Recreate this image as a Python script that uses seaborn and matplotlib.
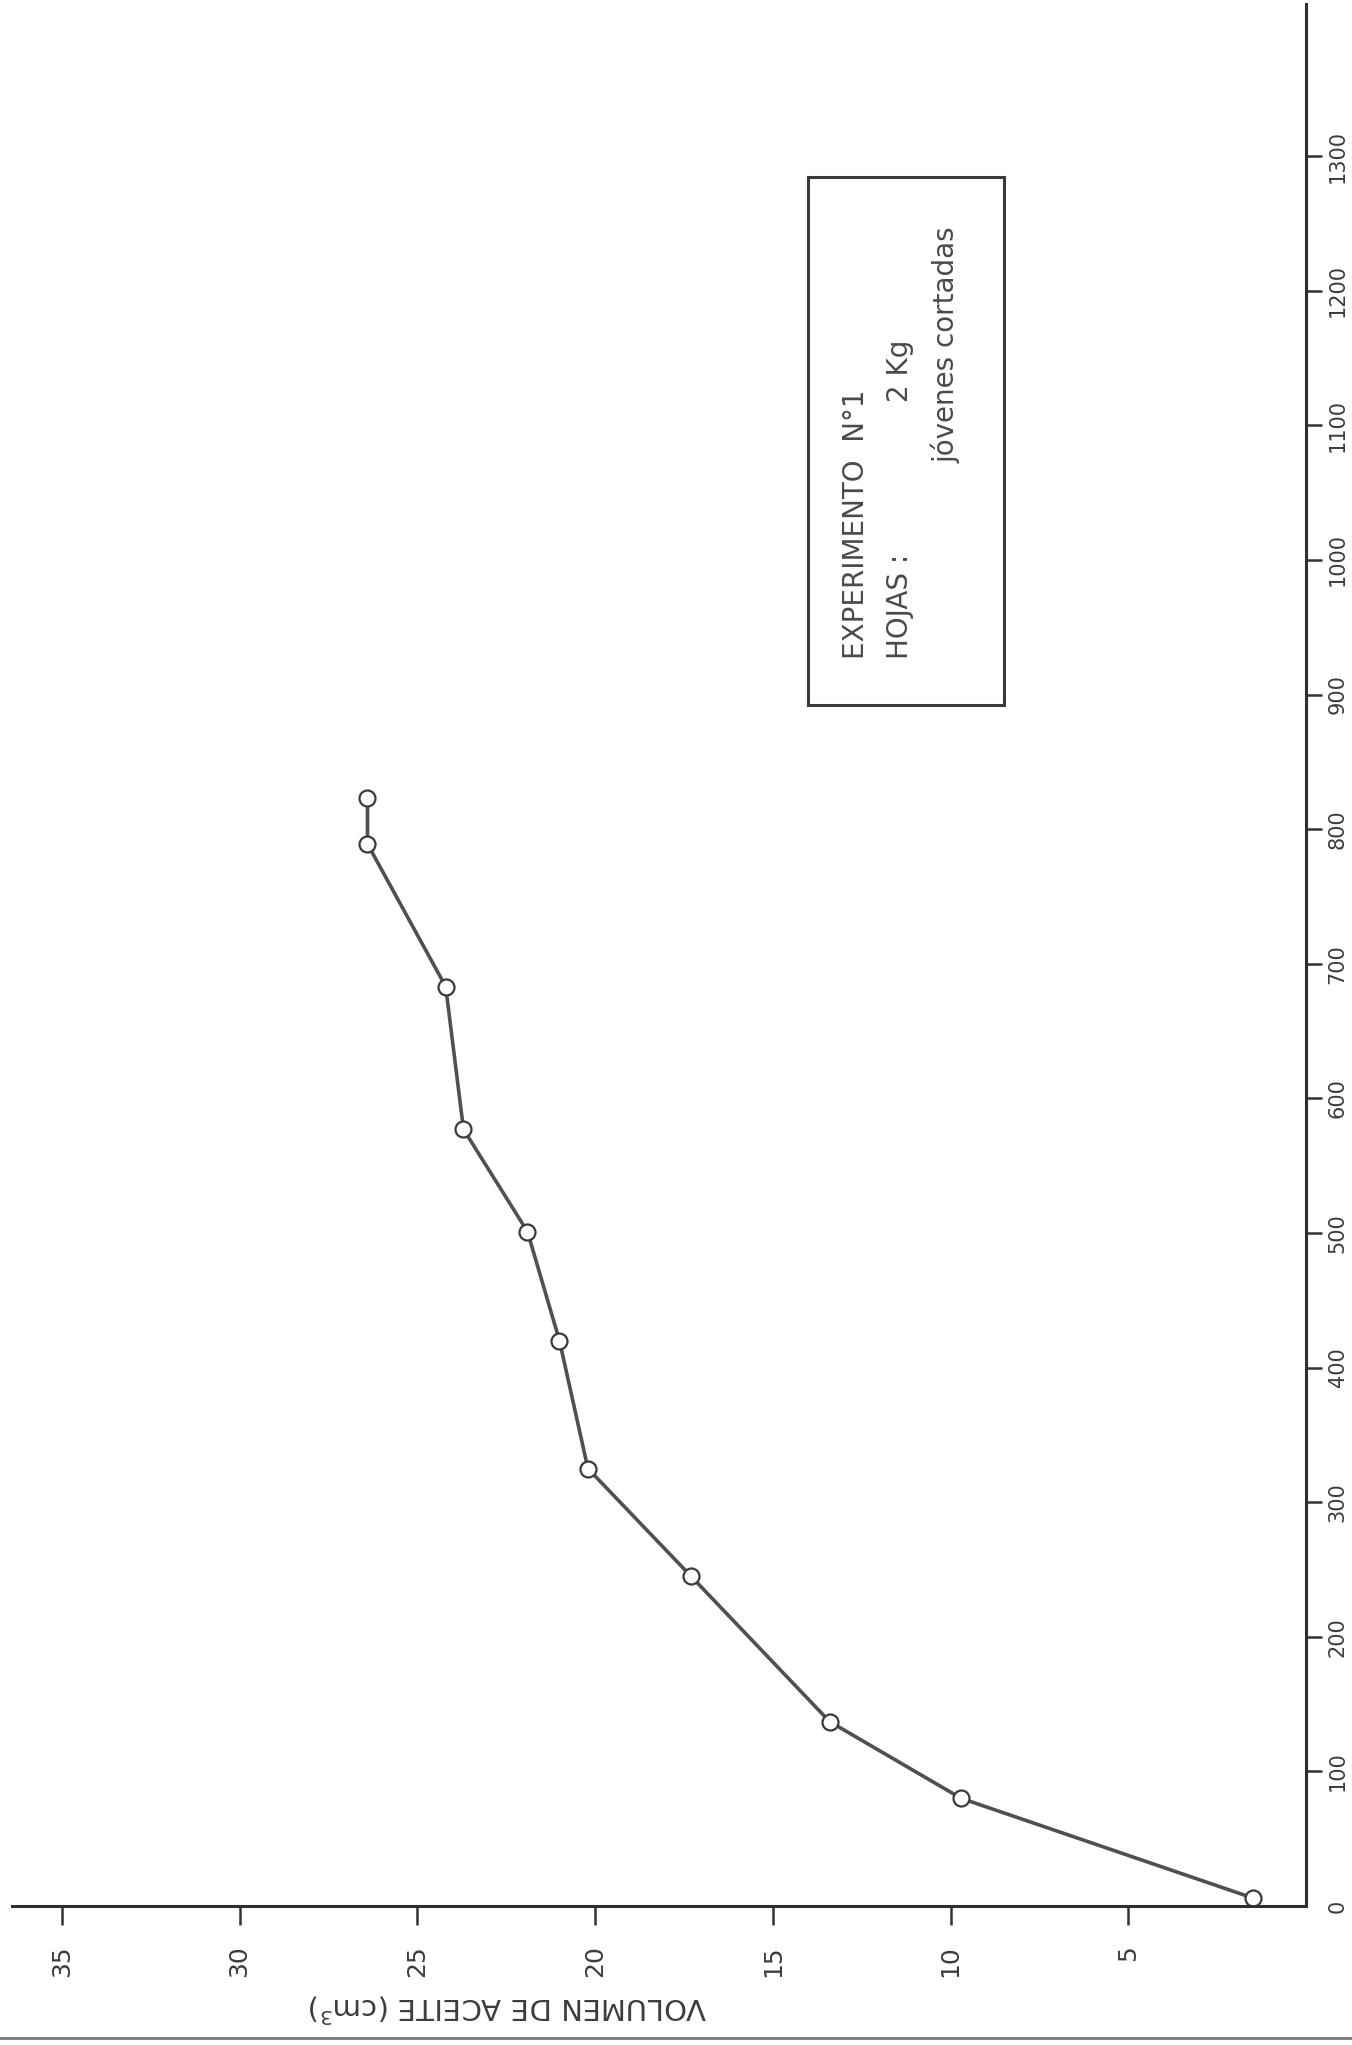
import matplotlib
matplotlib.use("Agg")
import matplotlib.pyplot as plt
import seaborn as sns
import pandas as pd
from matplotlib.patches import Rectangle
from matplotlib.lines import Line2D

# ---- data ----
tiempo = [6, 80, 137, 245, 325, 420, 501, 577, 683, 789, 823]
volumen = [1.5, 9.7, 13.4, 17.3, 20.2, 21.0, 21.9, 23.7, 24.2, 26.4, 26.4]
vol_ticks = [5, 10, 15, 20, 25, 30, 35]
time_ticks = [0, 100, 200, 300, 400, 500, 600, 700, 800, 900, 1000, 1100, 1200, 1300]
vol_label = "VOLUMEN DE ACEITE (cm$^{3}$)"
box_line1 = "EXPERIMENTO  N°1"
box_line2a = "HOJAS :"
box_line2b = "2 Kg"
box_line3 = "jóvenes cortadas"

sns.set_theme(style="white")
plt.rcParams["font.family"] = ["DejaVu Sans"]

W, H = 1352, 2045
fig = plt.figure(figsize=(W / 100, H / 100), dpi=100)
fig.patch.set_facecolor("white")

ax_left, ax_right, ax_top, ax_bottom = 12, 1306, 4, 1906
ax = fig.add_axes([ax_left / W, 1 - ax_bottom / H, (ax_right - ax_left) / W, (ax_bottom - ax_top) / H])
ax.set_facecolor("white")

ink = "#3a3a3a"
df = pd.DataFrame({"volumen": volumen, "tiempo": tiempo})
sns.lineplot(data=df, x="volumen", y="tiempo", sort=False, estimator=None, ax=ax,
             color="#505050", linewidth=2.6, marker="o", markersize=11.5,
             markerfacecolor="white", markeredgecolor=ink, markeredgewidth=1.6)

ax.set_xlim(36.4, 0)
ax.set_ylim(0, 1413)

for s in ["top", "left"]:
    ax.spines[s].set_visible(False)
for s in ["right", "bottom"]:
    ax.spines[s].set_visible(True)
    ax.spines[s].set_color("#2e2e2e")
    ax.spines[s].set_linewidth(2.2)

# time axis (vertical, on the right)
ax.yaxis.tick_right()
ax.set_yticks(time_ticks)
ax.set_yticklabels([str(t) for t in time_ticks])
ax.tick_params(axis="y", which="major", direction="out", length=11.5, width=1.8,
               color="#333333", pad=4, labelsize=15, labelrotation=90,
               labelcolor="#3c3c3c", right=True, left=False)
for lbl in ax.get_yticklabels():
    lbl.set_va("center")
ax.yaxis.get_major_ticks()[0].tick2line.set_visible(False)
ax.set_ylabel("")

# volume axis (horizontal, at the bottom, reversed)
ax.set_xticks(vol_ticks)
ax.set_xticklabels([str(v) for v in vol_ticks])
ax.tick_params(axis="x", which="major", direction="out", length=14, width=1.8,
               color="#333333", pad=14, labelsize=18, labelrotation=90,
               labelcolor="#3c3c3c", bottom=True, top=False)

ax.set_xlabel(vol_label, rotation=180, fontsize=21, color="#3c3c3c")
ax.xaxis.label.set_va("center")
ax.xaxis.label.set_ha("center")
ax.xaxis.set_label_coords((508 - ax_left) / (ax_right - ax_left),
                          -(2008 - ax_bottom) / (ax_bottom - ax_top))

# annotation box
bx0, bx1, by0, by1 = 808, 1004, 177, 705
fig.patches.append(Rectangle((bx0 / W, 1 - by1 / H), (bx1 - bx0) / W, (by1 - by0) / H,
                             transform=fig.transFigure, fill=False,
                             edgecolor="#3a3a3a", linewidth=2.2))
txt_kw = dict(rotation=90, rotation_mode="anchor", ha="left", va="center",
              fontsize=20, color="#4a4a4a")
fig.text(856 / W, 1 - 659 / H, box_line1, **txt_kw)
fig.text(900 / W, 1 - 659 / H, box_line2a, **txt_kw)
fig.text(900 / W, 1 - 402 / H, box_line2b, **txt_kw)
fig.text(946 / W, 1 - 463 / H, box_line3, **txt_kw)

# page edge at the bottom of the scan
fig.lines.append(Line2D([0, 1], [1 - 2038 / H, 1 - 2038 / H], transform=fig.transFigure,
                        color="#777777", linewidth=2.0))

fig.savefig("out.png", dpi=100, facecolor="white")
